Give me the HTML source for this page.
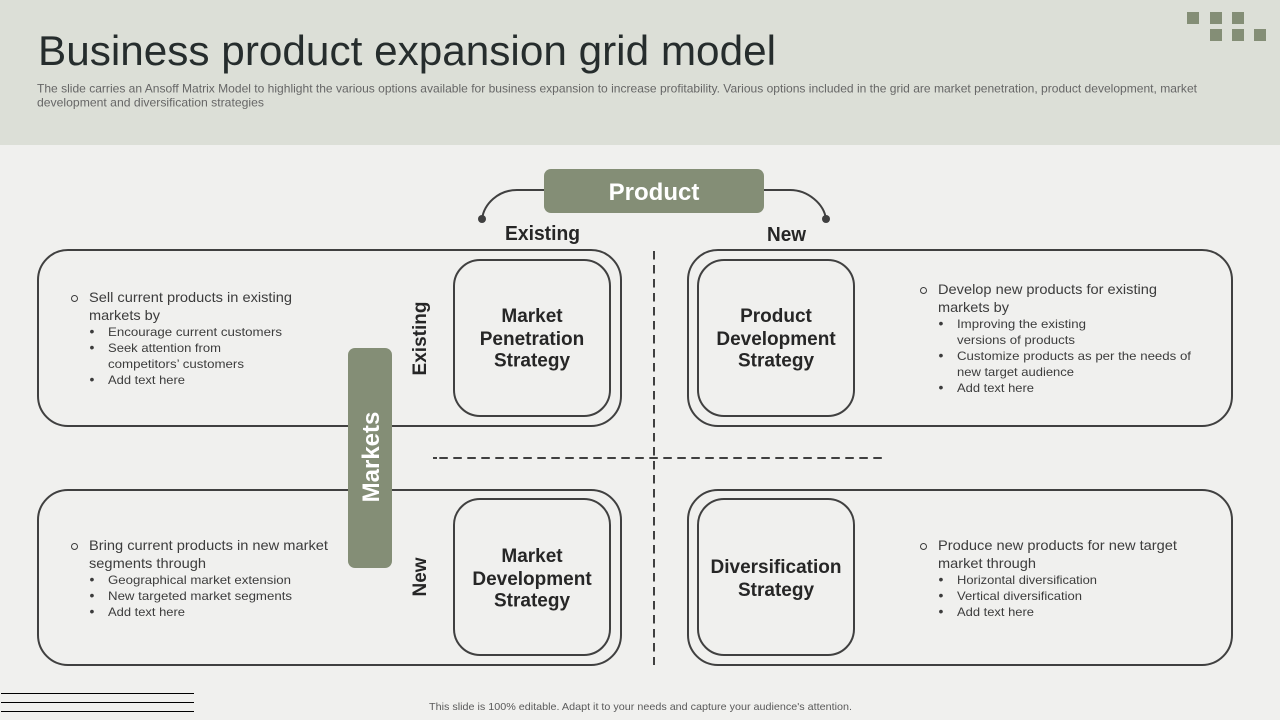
<!DOCTYPE html>
<html><head><meta charset="utf-8"><style>
html,body{margin:0;padding:0;background:#f0f0ee}
svg{display:block}
text{font-family:"Liberation Sans",sans-serif}
.b{font-size:14px;fill:#3c3c3c}
.s{font-size:12px;fill:#3c3c3c}
.h{font-size:19px;font-weight:bold;fill:#262626;text-anchor:middle}
.l{font-size:20px;font-weight:bold;fill:#262626}
.box{fill:none;stroke:#404040;stroke-width:2}
.g{fill:#848e76}
.d{fill:#3c3c3c;font-size:14px}
</style></head><body>
<svg width="1280" height="720" viewBox="0 0 1280 720" xmlns="http://www.w3.org/2000/svg">
<rect width="1280" height="720" fill="#f0f0ee"/>
<rect width="1280" height="145" fill="#dcdfd7"/>
<text x="38" y="65" font-size="42" fill="#262d2d" textLength="738" lengthAdjust="spacingAndGlyphs">Business product expansion grid model</text>
<text x="37" y="92.5" font-size="12" fill="#666" textLength="1160" lengthAdjust="spacingAndGlyphs">The slide carries an Ansoff Matrix Model to highlight the various options available for business expansion to increase profitability. Various options included in the grid are market penetration, product development, market</text>
<text x="37" y="106.5" font-size="12" fill="#666" textLength="227" lengthAdjust="spacingAndGlyphs">development and diversification strategies</text>
<g class="g">
<rect x="1187" y="12" width="12" height="12"/><rect x="1210" y="12" width="12" height="12"/><rect x="1232" y="12" width="12" height="12"/>
<rect x="1210" y="29" width="12" height="12"/><rect x="1232" y="29" width="12" height="12"/><rect x="1254" y="29" width="12" height="12"/>
</g>

<rect class="box" x="38" y="250" width="583" height="176" rx="30"/>
<rect class="box" x="688" y="250" width="544" height="176" rx="30"/>
<rect class="box" x="38" y="490" width="583" height="175" rx="30"/>
<rect class="box" x="688" y="490" width="544" height="175" rx="30"/>
<rect class="box" x="454" y="260" width="156" height="156" rx="26"/>
<rect class="box" x="698" y="260" width="156" height="156" rx="26"/>
<rect class="box" x="454" y="499" width="156" height="156" rx="26"/>
<rect class="box" x="698" y="499" width="156" height="156" rx="26"/>

<line x1="654" y1="251" x2="654" y2="665" stroke="#404040" stroke-width="2" stroke-dasharray="8.5 5.5"/>
<line x1="439.3" y1="458" x2="882" y2="458" stroke="#404040" stroke-width="2" stroke-dasharray="8.5 5.5"/>
<line x1="433" y1="458" x2="437" y2="458" stroke="#404040" stroke-width="2"/>

<path d="M545 190 H517 C498 190 484 204 482 219" fill="none" stroke="#404040" stroke-width="2"/>
<path d="M763 190 H790 C808 190 824 204 826 219" fill="none" stroke="#404040" stroke-width="2"/>
<circle cx="482" cy="219" r="4" fill="#404040"/>
<circle cx="826" cy="219" r="4" fill="#404040"/>
<rect class="g" x="544" y="169" width="220" height="44" rx="7"/>
<text x="654" y="200" font-size="24" font-weight="bold" fill="#fff" text-anchor="middle">Product</text>
<text x="505" y="240" class="l" textLength="75" lengthAdjust="spacingAndGlyphs">Existing</text>
<text x="767" y="241" class="l" textLength="39" lengthAdjust="spacingAndGlyphs">New</text>

<rect class="g" x="348" y="348" width="44" height="220" rx="7"/>
<text transform="translate(379 457) rotate(-90)" font-size="24" font-weight="bold" fill="#fff" text-anchor="middle">Markets</text>
<text transform="translate(426 338.5) rotate(-90)" class="h">Existing</text>
<text transform="translate(426 577) rotate(-90)" class="h">New</text>

<text class="h"><tspan x="532" y="322">Market</tspan><tspan x="532" y="345">Penetration</tspan><tspan x="532" y="366.5">Strategy</tspan></text>
<text class="h"><tspan x="776" y="322">Product</tspan><tspan x="776" y="345">Development</tspan><tspan x="776" y="366.5">Strategy</tspan></text>
<text class="h"><tspan x="532" y="562">Market</tspan><tspan x="532" y="585">Development</tspan><tspan x="532" y="606.5">Strategy</tspan></text>
<text class="h"><tspan x="776" y="573">Diversification</tspan><tspan x="776" y="596">Strategy</tspan></text>

<circle cx="74.5" cy="298.5" r="3" fill="none" stroke="#3c3c3c"/>
<text class="b" x="89" y="302" textLength="203" lengthAdjust="spacingAndGlyphs">Sell current products in existing</text>
<text class="b" x="89" y="320" textLength="71" lengthAdjust="spacingAndGlyphs">markets by</text>
<text class="d" x="89.5" y="336">•</text><text class="s" x="108" y="336" textLength="174" lengthAdjust="spacingAndGlyphs">Encourage current customers</text>
<text class="d" x="89.5" y="352">•</text><text class="s" x="108" y="352" textLength="113" lengthAdjust="spacingAndGlyphs">Seek attention from</text>
<text class="s" x="108" y="368" textLength="136" lengthAdjust="spacingAndGlyphs">competitors’ customers</text>
<text class="d" x="89.5" y="384">•</text><text class="s" x="108" y="384" textLength="77" lengthAdjust="spacingAndGlyphs">Add text here</text>

<circle cx="923.5" cy="290.5" r="3" fill="none" stroke="#3c3c3c"/>
<text class="b" x="938" y="294" textLength="219" lengthAdjust="spacingAndGlyphs">Develop new products for existing</text>
<text class="b" x="938" y="312" textLength="71" lengthAdjust="spacingAndGlyphs">markets by</text>
<text class="d" x="938.5" y="328">•</text><text class="s" x="957" y="328" textLength="129" lengthAdjust="spacingAndGlyphs">Improving the existing</text>
<text class="s" x="957" y="344" textLength="118" lengthAdjust="spacingAndGlyphs">versions of products</text>
<text class="d" x="938.5" y="360">•</text><text class="s" x="957" y="360" textLength="234" lengthAdjust="spacingAndGlyphs">Customize products as per the needs of</text>
<text class="s" x="957" y="376" textLength="117" lengthAdjust="spacingAndGlyphs">new target audience</text>
<text class="d" x="938.5" y="392">•</text><text class="s" x="957" y="392" textLength="77" lengthAdjust="spacingAndGlyphs">Add text here</text>

<circle cx="74.5" cy="546.5" r="3" fill="none" stroke="#3c3c3c"/>
<text class="b" x="89" y="550" textLength="239" lengthAdjust="spacingAndGlyphs">Bring current products in new market</text>
<text class="b" x="89" y="568" textLength="117" lengthAdjust="spacingAndGlyphs">segments through</text>
<text class="d" x="89.5" y="584">•</text><text class="s" x="108" y="584" textLength="183" lengthAdjust="spacingAndGlyphs">Geographical market extension</text>
<text class="d" x="89.5" y="600">•</text><text class="s" x="108" y="600" textLength="184" lengthAdjust="spacingAndGlyphs">New targeted market segments</text>
<text class="d" x="89.5" y="616">•</text><text class="s" x="108" y="616" textLength="77" lengthAdjust="spacingAndGlyphs">Add text here</text>

<circle cx="923.5" cy="546.5" r="3" fill="none" stroke="#3c3c3c"/>
<text class="b" x="938" y="550" textLength="239" lengthAdjust="spacingAndGlyphs">Produce new products for new target</text>
<text class="b" x="938" y="568" textLength="98" lengthAdjust="spacingAndGlyphs">market through</text>
<text class="d" x="938.5" y="584">•</text><text class="s" x="957" y="584" textLength="140" lengthAdjust="spacingAndGlyphs">Horizontal diversification</text>
<text class="d" x="938.5" y="600">•</text><text class="s" x="957" y="600" textLength="125" lengthAdjust="spacingAndGlyphs">Vertical diversification</text>
<text class="d" x="938.5" y="616">•</text><text class="s" x="957" y="616" textLength="77" lengthAdjust="spacingAndGlyphs">Add text here</text>

<g stroke="#000" stroke-width="1"><line x1="1" y1="693.5" x2="194" y2="693.5"/><line x1="1" y1="702.5" x2="194" y2="702.5"/><line x1="1" y1="711.5" x2="194" y2="711.5"/></g>
<text x="429" y="710" font-size="10.5" fill="#5a5a5a" textLength="423" lengthAdjust="spacingAndGlyphs">This slide is 100% editable. Adapt it to your needs and capture your audience's attention.</text>
</svg>
</body></html>
